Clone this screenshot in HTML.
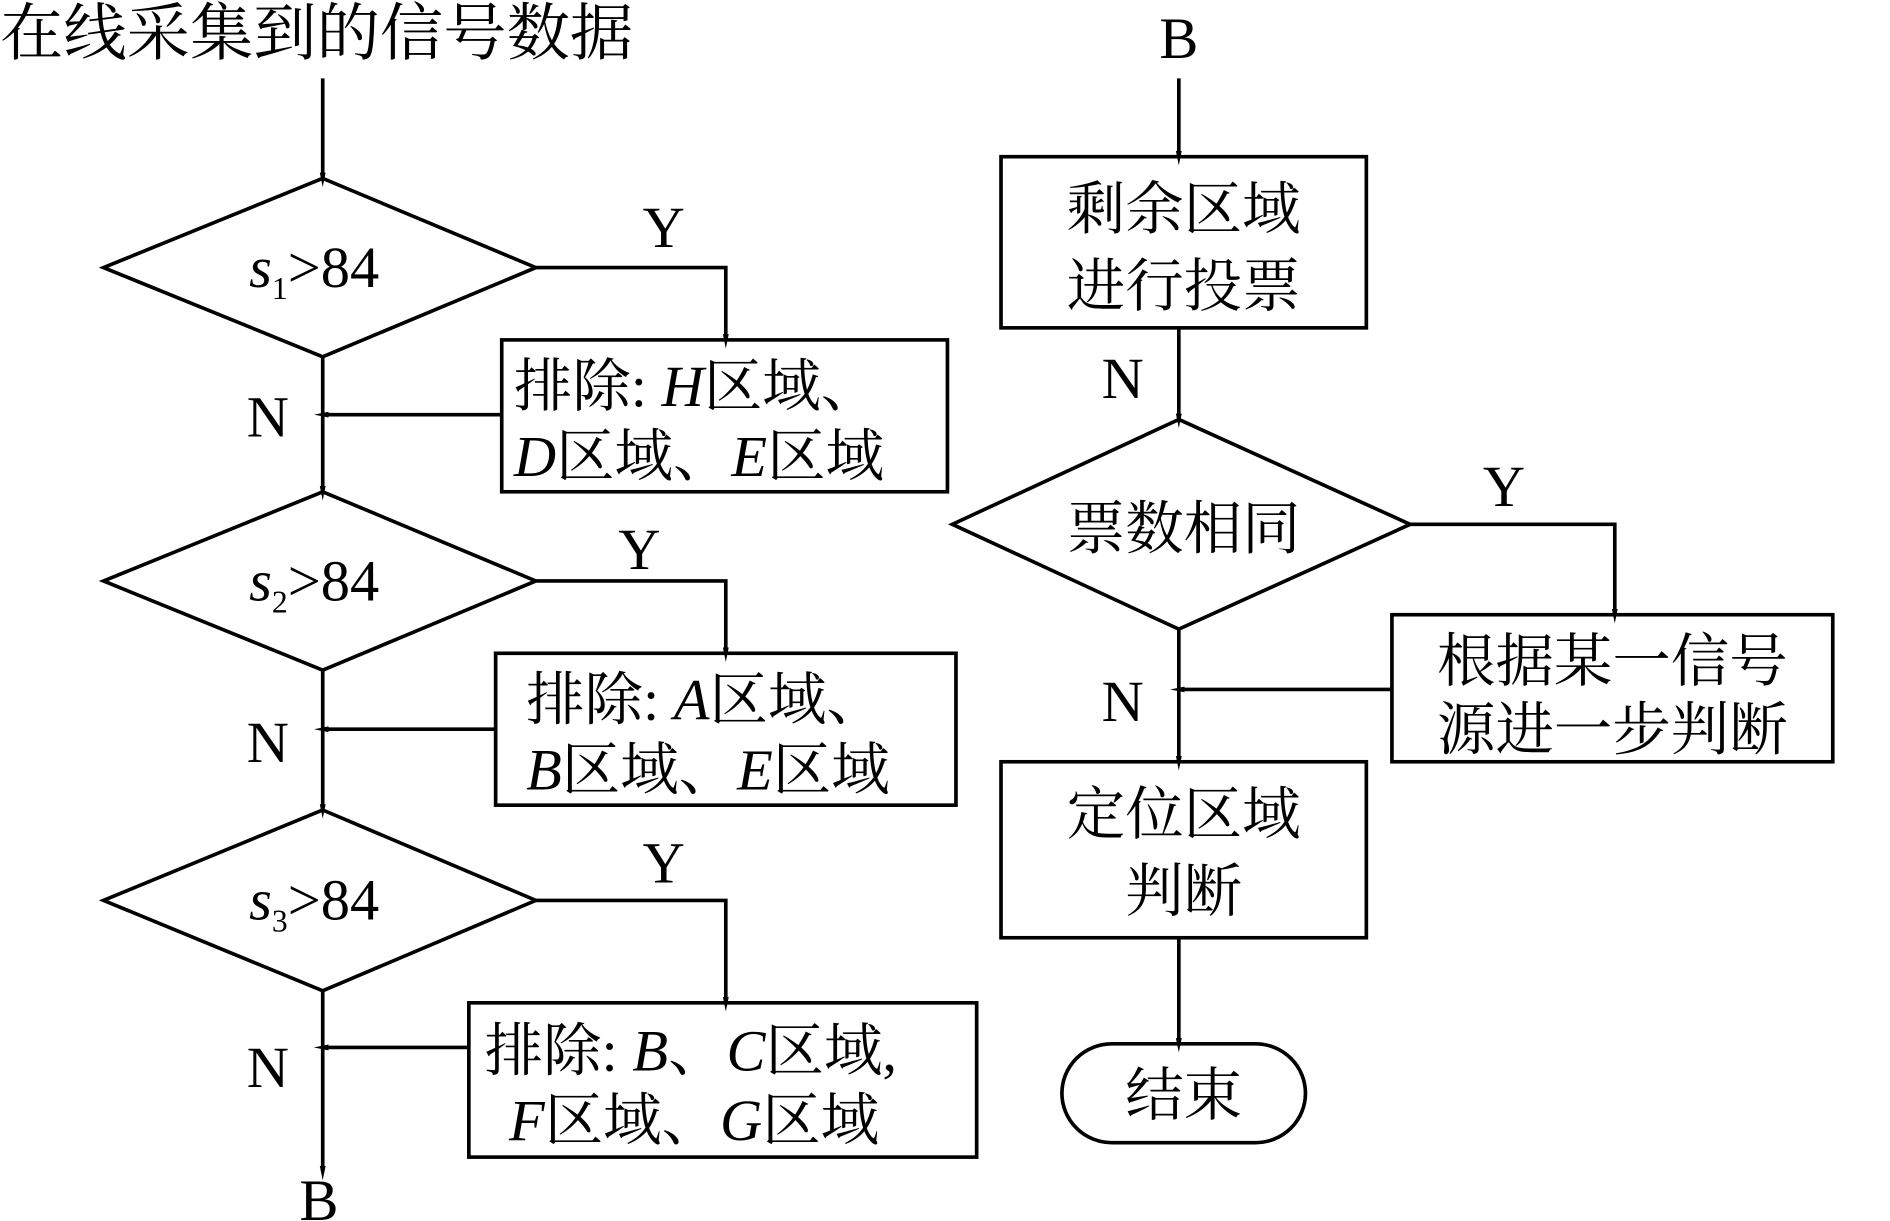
<!DOCTYPE html>
<html><head><meta charset="utf-8"><style>
html,body{margin:0;padding:0;background:#fff;}
svg{display:block;}
text{font-family:"Liberation Serif","Noto Serif CJK SC",serif;fill:#000;}
</style></head><body>
<svg width="1890" height="1221" viewBox="0 0 1552 1013" preserveAspectRatio="none" xmlns="http://www.w3.org/2000/svg">
<defs>
<marker id="a" markerWidth="12" markerHeight="30" refX="12" refY="6" orient="auto" markerUnits="userSpaceOnUse" viewBox="0 0 30 12">
<path d="M0,0 L30,6 L0,12 z" fill="#000"/></marker>
</defs>
<g stroke="#000" stroke-width="3" fill="none">
<line x1="265" y1="65" x2="265" y2="148" marker-end="url(#a)"/>
<polygon points="265,148 440,222 265,296 85,222"/>
<polyline points="440,222 596,222 596,282" marker-end="url(#a)"/>
<rect x="412" y="282" width="366" height="126"/>
<line x1="412" y1="344" x2="265" y2="344" marker-end="url(#a)"/>
<line x1="265" y1="296" x2="265" y2="408" marker-end="url(#a)"/>
<polygon points="265,408 440,482 265,556 85,482"/>
<polyline points="440,482 596,482 596,542" marker-end="url(#a)"/>
<rect x="407" y="542" width="378" height="126"/>
<line x1="407" y1="605" x2="265" y2="605" marker-end="url(#a)"/>
<line x1="265" y1="556" x2="265" y2="672" marker-end="url(#a)"/>
<polygon points="265,672 440,747 265,822 85,747"/>
<polyline points="440,747 596,747 596,832" marker-end="url(#a)"/>
<rect x="385" y="832" width="417" height="128"/>
<line x1="385" y1="869" x2="265" y2="869" marker-end="url(#a)"/>
<line x1="265" y1="822" x2="265" y2="972" marker-end="url(#a)"/>
<line x1="968" y1="65" x2="968" y2="130" marker-end="url(#a)"/>
<rect x="822" y="130" width="300" height="142"/>
<line x1="968" y1="272" x2="968" y2="348" marker-end="url(#a)"/>
<polygon points="968,348 1158,435 968,522 782,435"/>
<polyline points="1158,435 1326,435 1326,510" marker-end="url(#a)"/>
<rect x="1143" y="510" width="362" height="122"/>
<line x1="1143" y1="572" x2="968" y2="572" marker-end="url(#a)"/>
<line x1="968" y1="522" x2="968" y2="632" marker-end="url(#a)"/>
<rect x="822" y="632" width="300" height="146"/>
<line x1="968" y1="778" x2="968" y2="866" marker-end="url(#a)"/>
<rect x="872" y="866" width="200" height="82" rx="41"/>
</g>
<g font-size="48">
<text x="0" y="45" font-size="52">在线采集到的信号数据</text>
<text x="258" y="238" text-anchor="middle"><tspan font-style="italic">s</tspan><tspan font-size="26" dy="10">1</tspan><tspan dy="-10">&gt;84</tspan></text>
<text x="258" y="498" text-anchor="middle"><tspan font-style="italic">s</tspan><tspan font-size="26" dy="10">2</tspan><tspan dy="-10">&gt;84</tspan></text>
<text x="258" y="763" text-anchor="middle"><tspan font-style="italic">s</tspan><tspan font-size="26" dy="10">3</tspan><tspan dy="-10">&gt;84</tspan></text>
<text x="545" y="205" text-anchor="middle">Y</text>
<text x="525" y="472" text-anchor="middle">Y</text>
<text x="545" y="732" text-anchor="middle">Y</text>
<text x="220" y="362" text-anchor="middle">N</text>
<text x="220" y="632" text-anchor="middle">N</text>
<text x="220" y="902" text-anchor="middle">N</text>
<text x="262" y="1012" text-anchor="middle">B</text>
<text x="422" y="337">排除: <tspan font-style="italic">H</tspan>区域、</text>
<text x="422" y="395"><tspan font-style="italic">D</tspan>区域、<tspan font-style="italic">E</tspan>区域</text>
<text x="432" y="597">排除: <tspan font-style="italic">A</tspan>区域、</text>
<text x="432" y="655"><tspan font-style="italic">B</tspan>区域、<tspan font-style="italic">E</tspan>区域</text>
<text x="398" y="888">排除: <tspan font-style="italic">B</tspan>、<tspan font-style="italic">C</tspan>区域,</text>
<text x="418" y="946"><tspan font-style="italic">F</tspan>区域、<tspan font-style="italic">G</tspan>区域</text>
<text x="968" y="48" text-anchor="middle">B</text>
<text x="972" y="190" text-anchor="middle">剩余区域</text>
<text x="972" y="254" text-anchor="middle">进行投票</text>
<text x="922" y="330" text-anchor="middle">N</text>
<text x="972" y="455" text-anchor="middle">票数相同</text>
<text x="1235" y="420" text-anchor="middle">Y</text>
<text x="1324" y="565" text-anchor="middle">根据某一信号</text>
<text x="1324" y="622" text-anchor="middle">源进一步判断</text>
<text x="922" y="598" text-anchor="middle">N</text>
<text x="972" y="692" text-anchor="middle">定位区域</text>
<text x="972" y="756" text-anchor="middle">判断</text>
<text x="972" y="925" text-anchor="middle">结束</text>
</g>
</svg>
</body></html>
